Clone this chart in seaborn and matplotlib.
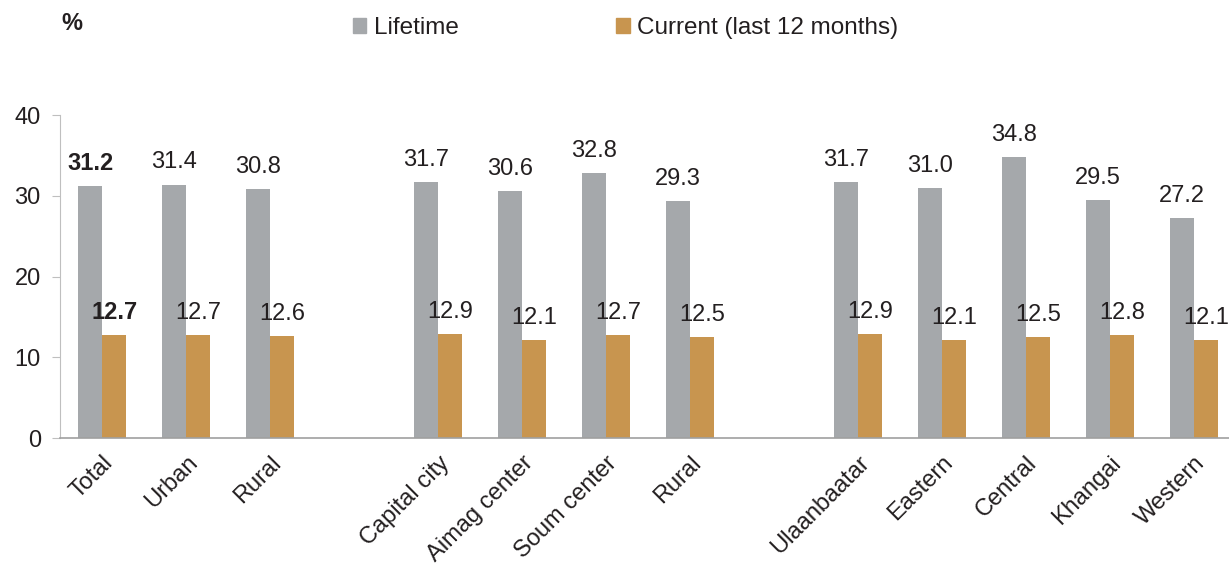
import pandas as pd
import seaborn as sns
import matplotlib
matplotlib.use("Agg")
import matplotlib.pyplot as plt

# categories and their group (a blank slot is left between groups)
categories = ["Total", "Urban", "Rural",
              "Capital city", "Aimag center", "Soum center", "Rural",
              "Ulaanbaatar", "Eastern", "Central", "Khangai", "Western"]
groups = [0, 0, 0, 1, 1, 1, 1, 2, 2, 2, 2, 2]
lifetime = [31.2, 31.4, 30.8, 31.7, 30.6, 32.8, 29.3, 31.7, 31.0, 34.8, 29.5, 27.2]
current = [12.7, 12.7, 12.6, 12.9, 12.1, 12.7, 12.5, 12.9, 12.1, 12.5, 12.8, 12.1]
series = ["Lifetime", "Current (last 12 months)"]
colors = ["#A5A8AB", "#C8954F"]

slots = [i + g for i, g in enumerate(groups)]
df = pd.DataFrame({
    "slot": slots * 2,
    "value": lifetime + current,
    "series": [series[0]] * len(slots) + [series[1]] * len(slots),
})

sns.set_style("white")
plt.rcParams["font.family"] = ["Liberation Sans", "DejaVu Sans"]
ink = "#231F20"

fig = plt.figure(figsize=(12.29, 5.67), dpi=100)
ax = fig.add_axes([0.049, 0.2275, 0.951, 0.5695])

sns.barplot(data=df, x="slot", y="value", hue="series", hue_order=series,
            palette=colors, native_scale=True, width=0.57, gap=0,
            saturation=1, errorbar=None, linewidth=0, ax=ax, legend=False)

for cont in ax.containers:
    txts = ax.bar_label(cont, fmt="%.1f", padding=8, fontsize=17, color=ink)
    txts[0].set_fontweight("bold")

ax.set_xlim(-0.5, 13.42)
ax.set_ylim(0, 40)
ax.set_yticks([0, 10, 20, 30, 40])
ax.set_xticks(slots)
ax.set_xticklabels(categories, rotation=45, ha="right", rotation_mode="anchor")
ax.tick_params(axis="x", length=0, labelsize=17, labelcolor=ink, pad=10)
ax.tick_params(axis="y", length=6, color="#BFBFBF", labelsize=17,
               labelcolor=ink, pad=8, left=True)
ax.set_xlabel("")
ax.set_ylabel("")

for side in ["top", "right"]:
    ax.spines[side].set_visible(False)
ax.spines["left"].set_color("#BFBFBF")
ax.spines["bottom"].set_color("#A0A0A0")
ax.spines["bottom"].set_linewidth(1.2)

fig.text(0.05, 0.958, "%", fontsize=17, fontweight="bold", va="center", color=ink)

handles = [plt.Rectangle((0, 0), 1, 1, color=c) for c in colors]
fig.legend(handles, series, loc="center", bbox_to_anchor=(0.509, 0.951), ncol=2,
           frameon=False, fontsize=17.5, handlelength=0.55, handleheight=0.55,
           handletextpad=0.3, columnspacing=6.5, labelcolor=ink)

fig.savefig("out.png", dpi=100)
